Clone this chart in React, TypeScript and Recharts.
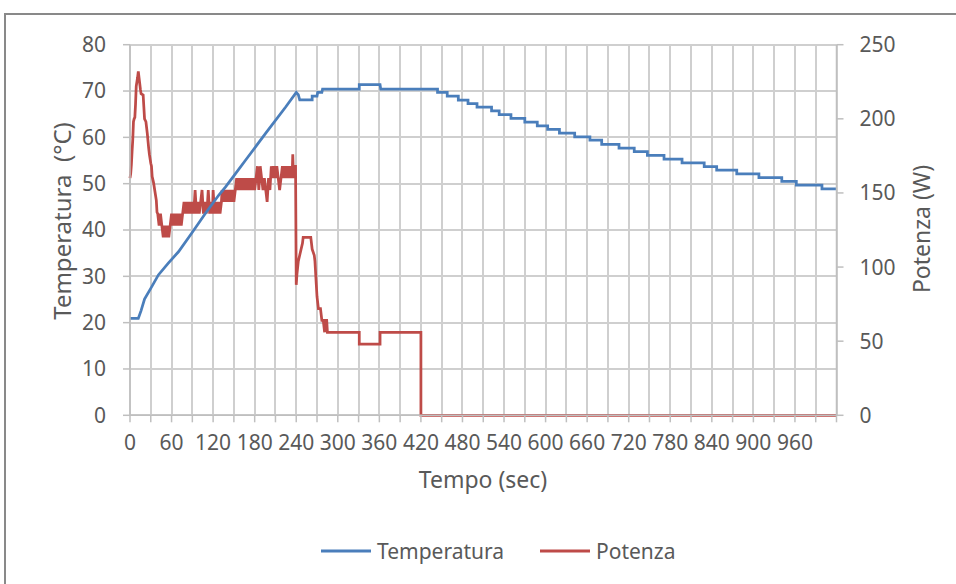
import React from 'react';
import { LineChart, Line, XAxis, YAxis, Customized } from 'recharts';

// Temperatura (°C) – [tempo sec, valore]
const temperatura: [number, number][] = [
  [0, 20.9], [12, 20.9], [16, 22.6], [21, 25.1], [30, 27.4], [41, 30.3], [55, 32.8], [70, 35.3],
  [89, 39.3], [109, 43.6], [128, 47.5], [138, 49.3], [151, 51.9], [167, 55.1], [196, 60.9],
  [225, 66.6], [240, 69.7], [243, 69.2], [245, 68.1], [263, 68.1], [263, 68.9], [270, 68.9],
  [271, 69.7], [277, 69.7], [278, 70.4], [331, 70.4], [331, 71.4], [361, 71.4], [362, 70.4],
  [444, 70.4], [444, 69.7], [458, 69.7], [458, 68.9], [474, 68.9], [474, 68.05], [488, 68.05],
  [488, 67.3], [501, 67.3], [501, 66.5], [522, 66.5], [522, 65.7], [533, 65.7], [533, 64.9],
  [550, 64.9], [550, 64.1], [570, 64.1], [570, 63.3], [588, 63.3], [588, 62.5], [603, 62.5],
  [603, 61.7], [620, 61.7], [620, 60.9], [642, 60.9], [642, 60.1], [664, 60.1], [664, 59.4],
  [681, 59.4], [681, 58.5], [706, 58.5], [706, 57.7], [728, 57.7], [728, 56.9], [747, 56.9],
  [747, 56.1], [771, 56.1], [771, 55.3], [797, 55.3], [797, 54.5], [829, 54.5], [829, 53.7],
  [847, 53.7], [847, 52.9], [876, 52.9], [876, 52.1], [908, 52.1], [908, 51.3], [941, 51.3],
  [941, 50.5], [962, 50.5], [962, 49.7], [999, 49.7], [999, 48.9], [1020, 48.9],
];

// Potenza (W) – [tempo sec, valore]
const potenza: [number, number][] = [
  [0, 160], [1, 163], [2, 169], [3, 178], [4, 186], [5, 198], [6, 200], [7, 201], [8, 210],
  [9, 222], [10, 225], [11, 228], [12, 232], [13, 228], [14, 224], [15, 220], [16, 217],
  [19, 216], [20, 208], [21, 200], [23, 198], [25, 190], [27, 180], [28, 176], [30, 170],
  [31, 168], [32, 161], [34, 157], [36, 151], [38, 145], [39, 137],
  [40, 136], [42, 128], [44, 136], [46, 128], [48, 120], [50, 128], [52, 120], [54, 128],
  [56, 120], [58, 128], [60, 136], [62, 128], [64, 136], [66, 128], [68, 136], [70, 128],
  [72, 136], [74, 128], [76, 136], [78, 144], [80, 136], [82, 144], [84, 136], [86, 144],
  [88, 136], [90, 144], [92, 136], [94, 152], [96, 136], [98, 144], [100, 136], [102, 144],
  [104, 152], [106, 136], [108, 144], [110, 136], [112, 144], [113, 152], [115, 136],
  [117, 144], [119, 136], [120, 152], [122, 136], [124, 144], [126, 136], [128, 144],
  [130, 136], [132, 144], [133, 152], [135, 144], [136, 152], [138, 144], [140, 152],
  [142, 144], [144, 152], [146, 144], [148, 152], [150, 144], [152, 152], [154, 160],
  [156, 152], [158, 160], [160, 152], [162, 160], [164, 152], [166, 160], [168, 152],
  [170, 160], [172, 152], [174, 160], [176, 152], [178, 160], [180, 152], [182, 160],
  [184, 168], [186, 152], [188, 168], [190, 160], [192, 152], [194, 160], [196, 152],
  [198, 144], [199, 152], [200, 160], [202, 152], [204, 168], [206, 160], [208, 168],
  [210, 160], [212, 168], [214, 160], [216, 152], [218, 160], [220, 168], [222, 160],
  [224, 168], [226, 160], [228, 168], [230, 160], [232, 168], [234, 160], [235, 176],
  [236, 160], [238, 168], [239, 168],
  [240, 88], [241, 95], [243, 104], [245, 108], [247, 112], [249, 116], [250, 120],
  [261, 120], [263, 112], [266, 108], [267, 104], [269, 88], [270, 80], [272, 72],
  [275, 72], [277, 64], [279, 64], [281, 56], [282, 64], [284, 64], [285, 56],
  [331, 56], [331, 48], [361, 48], [361, 56], [420, 56], [420, 0], [1020, 0],
];

const xTicks = [0, 30, 60, 90, 120, 150, 180, 210, 240, 270, 300, 330, 360, 390, 420, 450, 480,
  510, 540, 570, 600, 630, 660, 690, 720, 750, 780, 810, 840, 870, 900, 930, 960, 990, 1020];
const xLabels = [0, 60, 120, 180, 240, 300, 360, 420, 480, 540, 600, 660, 720, 780, 840, 900, 960];
const leftTicks = [0, 10, 20, 30, 40, 50, 60, 70, 80];
const rightTicks = [0, 50, 100, 150, 200, 250];

const X_MAX = 1020;
const LEFT_MAX = 80;

// layout (pixels)
const W = 956;
const H = 584;
const M_TOP = 44.7;
const M_BOTTOM = 128.7;
const X_AXIS_H = 40;
const LEFT_W = 130;
const RIGHT_W = 119.5;
const PLOT_X = LEFT_W;
const PLOT_Y = M_TOP;
const PLOT_W = W - LEFT_W - RIGHT_W;
const PLOT_H = H - M_TOP - M_BOTTOM - X_AXIS_H;

const tempData = temperatura.map(([t, v]) => ({ t, temp: v }));
const powData = potenza.map(([t, v]) => ({ t, pow: v }));

const BLUE = '#4a7ebb';
const RED = '#be4b48';
const TEXT = '#595959';
const GRID = '#cfcfcf';
const AXIS = '#bfbfbf';
const FONT = '"Noto Sans", sans-serif';

const Grid = () => (
  <g className="grid">
    {leftTicks.map((v) => {
      const y = Math.round(PLOT_Y + PLOT_H - (v / LEFT_MAX) * PLOT_H) - 1;
      return <rect key={'h' + v} x={PLOT_X} y={y} width={PLOT_W} height={2} fill={GRID} />;
    })}
    {xTicks.map((t) => {
      const x = Math.round(PLOT_X + (t / X_MAX) * PLOT_W) - 1;
      return <rect key={'v' + t} x={x} y={PLOT_Y} width={2} height={PLOT_H} fill={GRID} />;
    })}
  </g>
);

const Overlay = () => (
  <g style={{ fontFamily: FONT }} fill={TEXT}>
    <text transform="rotate(-90)" x={-221} y={61} textAnchor="middle" dominantBaseline="central"
      fontSize={24} style={{ whiteSpace: 'pre' }}>{'Temperatura  (°C)'}</text>
    <text transform="rotate(-90)" x={-229} y={921} textAnchor="middle" dominantBaseline="central"
      fontSize={23}>Potenza (W)</text>
    <text x={483} y={488} textAnchor="middle" fontSize={23}>Tempo (sec)</text>
    <line x1={321} y1={551} x2={371} y2={551} stroke={BLUE} strokeWidth={3} />
    <text x={377} y={551} dominantBaseline="central" fontSize={21}>Temperatura</text>
    <line x1={540} y1={551} x2={590} y2={551} stroke={RED} strokeWidth={3} />
    <text x={596} y={551} dominantBaseline="central" fontSize={21}>Potenza</text>
  </g>
);

export default function App() {
  return (
    <div style={{ position: 'absolute', left: 0, top: 0, width: W, height: H, overflow: 'hidden', background: '#fff' }}>
      <div style={{ position: 'absolute', left: 4, top: 13, width: 980, height: 620, border: '2px solid #898989', boxSizing: 'border-box' }} />
      <div style={{ position: 'absolute', left: 0, top: 0 }}>
        <LineChart width={W} height={H} data={tempData} margin={{ top: M_TOP, right: 0, bottom: M_BOTTOM, left: 0 }}
          style={{ fontFamily: FONT }}>
          <Customized component={Grid} />
          <XAxis dataKey="t" type="number" domain={[0, X_MAX]} ticks={xTicks} interval={0}
            allowDuplicatedCategory={false} height={X_AXIS_H}
            tickFormatter={(v: number) => (xLabels.includes(v) ? String(v) : '')}
            tick={{ fill: TEXT, fontSize: 21, fontFamily: FONT }} tickSize={7} tickMargin={13}
            axisLine={{ stroke: AXIS, strokeWidth: 1.5 }} tickLine={{ stroke: AXIS, strokeWidth: 1.5 }} />
          <YAxis yAxisId="left" domain={[0, LEFT_MAX]} ticks={leftTicks} interval={0} width={LEFT_W}
            tick={{ fill: TEXT, fontSize: 21, fontFamily: FONT }} tickSize={7} tickMargin={17}
            axisLine={{ stroke: AXIS, strokeWidth: 1.5 }} tickLine={{ stroke: AXIS, strokeWidth: 1.5 }} />
          <YAxis yAxisId="right" orientation="right" domain={[0, 250]} ticks={rightTicks} interval={0} width={RIGHT_W}
            tick={{ fill: TEXT, fontSize: 21, fontFamily: FONT }} tickSize={7} tickMargin={16}
            axisLine={{ stroke: AXIS, strokeWidth: 1.5 }} tickLine={{ stroke: AXIS, strokeWidth: 1.5 }} />
          <Line data={powData} dataKey="pow" yAxisId="right" type="linear" stroke={RED} strokeWidth={2.75}
            dot={false} activeDot={false} isAnimationActive={false} name="Potenza" />
          <Line data={tempData} dataKey="temp" yAxisId="left" type="linear" stroke={BLUE} strokeWidth={2.75}
            dot={false} activeDot={false} isAnimationActive={false} name="Temperatura" />
          <Customized component={Overlay} />
        </LineChart>
      </div>
    </div>
  );
}
